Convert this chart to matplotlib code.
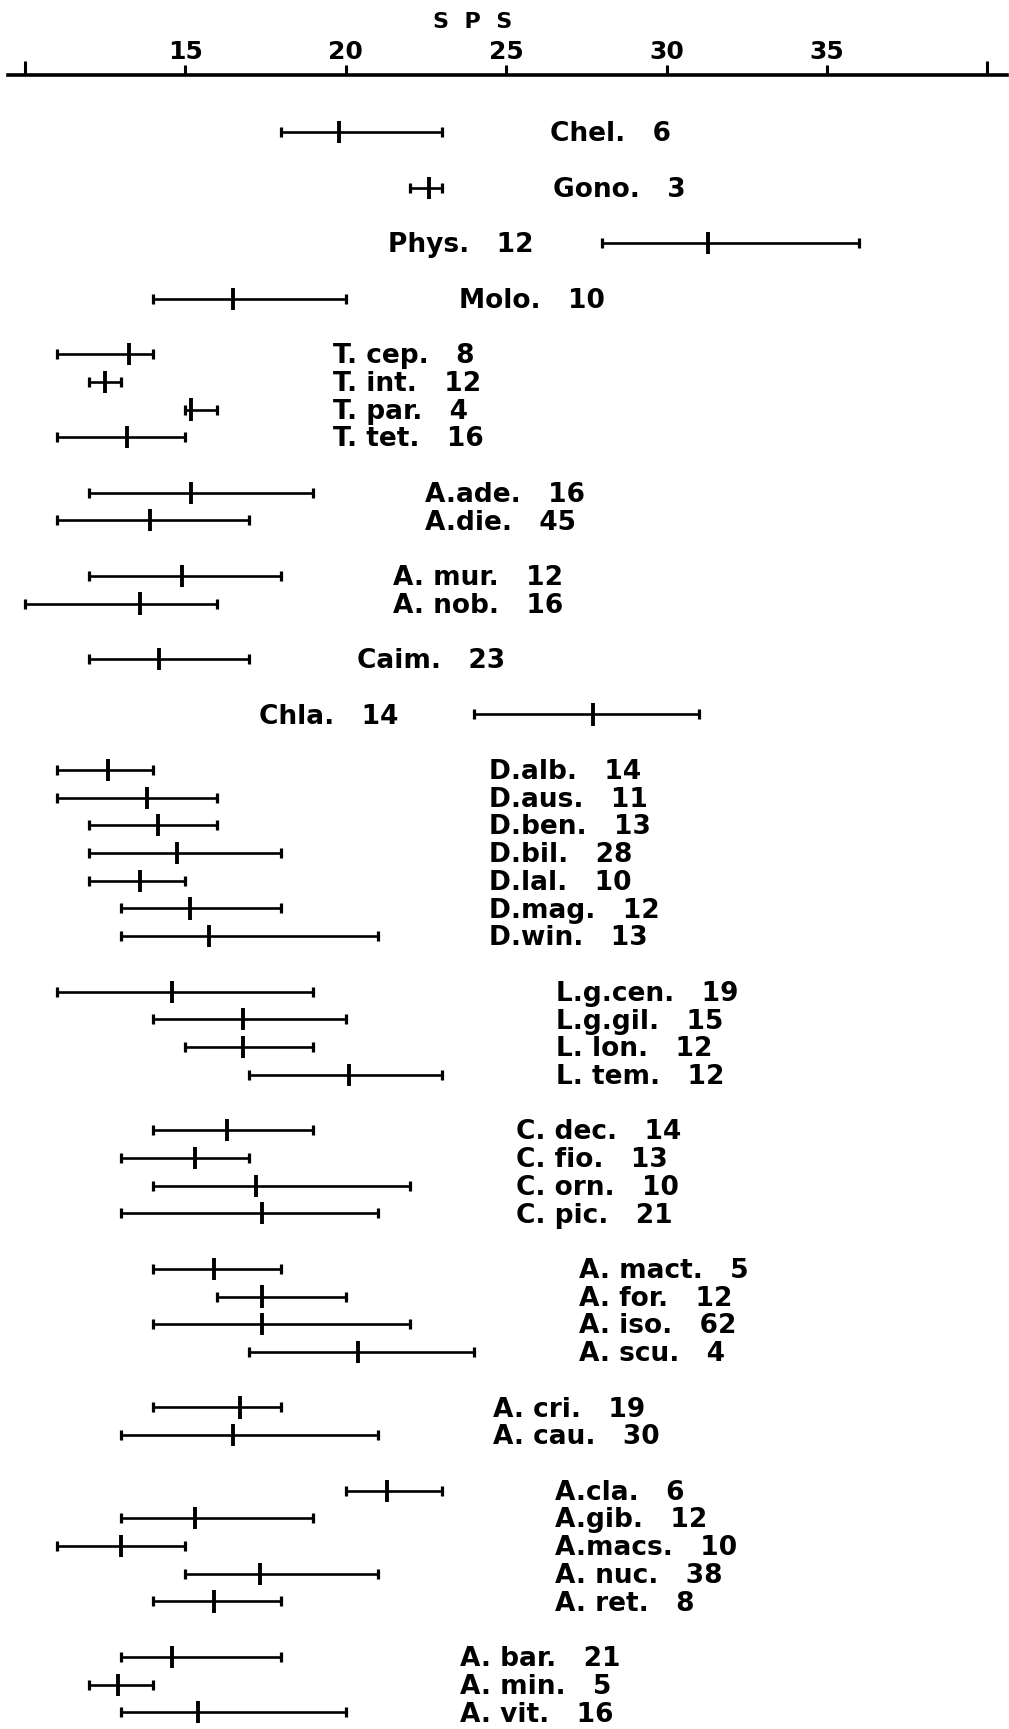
import matplotlib
matplotlib.use("Agg")
import matplotlib.pyplot as plt

# Taxa, sample sizes and SPS ranges (low, mean, high)
taxa = [
    "Chel.", "Gono.", "Phys.", "Molo.",
    "T. cep.", "T. int.", "T. par.", "T. tet.",
    "A.ade.", "A.die.",
    "A. mur.", "A. nob.",
    "Caim.", "Chla.",
    "D.alb.", "D.aus.", "D.ben.", "D.bil.", "D.lal.", "D.mag.", "D.win.",
    "L.g.cen.", "L.g.gil.", "L. lon.", "L. tem.",
    "C. dec.", "C. fio.", "C. orn.", "C. pic.",
    "A. mact.", "A. for.", "A. iso.", "A. scu.",
    "A. cri.", "A. cau.",
    "A.cla.", "A.gib.", "A.macs.", "A. nuc.", "A. ret.",
    "A. bar.", "A. min.", "A. vit.",
]
sample_n = [
    6, 3, 12, 10,
    8, 12, 4, 16,
    16, 45,
    12, 16,
    23, 14,
    14, 11, 13, 28, 10, 12, 13,
    19, 15, 12, 12,
    14, 13, 10, 21,
    5, 12, 62, 4,
    19, 30,
    6, 12, 10, 38, 8,
    21, 5, 16,
]
sps_low = [
    18, 22, 28, 14,
    11, 12, 15, 11,
    12, 11,
    12, 10,
    12, 24,
    11, 11, 12, 12, 12, 13, 13,
    11, 14, 15, 17,
    14, 13, 14, 13,
    14, 16, 14, 17,
    14, 13,
    20, 13, 11, 15, 14,
    13, 12, 13,
]
sps_mean = [
    19.8, 22.6, 31.3, 16.5,
    13.25, 12.5, 15.2, 13.2,
    15.2, 13.9,
    14.9, 13.6,
    14.2, 27.7,
    12.6, 13.8, 14.15, 14.75, 13.6, 15.15, 15.75,
    14.6, 16.8, 16.8, 20.1,
    16.3, 15.3, 17.2, 17.4,
    15.9, 17.4, 17.4, 20.4,
    16.7, 16.5,
    21.3, 15.3, 13.0, 17.35, 15.9,
    14.6, 12.9, 15.4,
]
sps_high = [
    23, 23, 36, 20,
    14, 13, 16, 15,
    19, 17,
    18, 16,
    17, 31,
    14, 16, 16, 18, 15, 18, 21,
    19, 20, 19, 23,
    19, 17, 22, 21,
    18, 20, 22, 24,
    18, 21,
    23, 19, 15, 21, 18,
    18, 14, 20,
]
group_sizes = [1, 1, 1, 1, 4, 2, 2, 1, 1, 7, 4, 4, 4, 2, 5, 3]
tick_values = [15, 20, 25, 30, 35]
end_ticks = [10, 40]

# Layout: left edge of the label column for each group (SPS units)
label_x = [26.37, 26.46, 21.32, 23.53, 19.61, 22.47, 21.48, 20.36,
           17.30, 24.47, 26.56, 25.31, 27.27, 24.59, 26.52, 23.56]

# Row positions: one slot per taxon, an empty slot between groups
rows, row_label_x = [], []
slot = 0
for g, size in enumerate(group_sizes):
    for _ in range(size):
        rows.append(slot)
        row_label_x.append(label_x[g])
        slot += 1
    slot += 1

plt.rcParams["font.family"] = ["DejaVu Sans"]
fig = plt.figure(figsize=(10.09, 17.29), dpi=100)
ax = fig.add_axes([0, 0, 1, 1])
ax.set_xlim(9.234, 40.67)
ax.set_ylim(57.6, -4.773)

ink = "black"
ax.hlines(rows, sps_low, sps_high, color=ink, lw=1.9)
cap = 0.18
ax.vlines(sps_low, [r - cap for r in rows], [r + cap for r in rows], color=ink, lw=2.3)
ax.vlines(sps_high, [r - cap for r in rows], [r + cap for r in rows], color=ink, lw=2.3)
tick_h = 0.4
ax.vlines(sps_mean, [r - tick_h for r in rows], [r + tick_h for r in rows], color=ink, lw=2.8)

for name, n, r, lx in zip(taxa, sample_n, rows, row_label_x):
    ax.text(lx, r + 0.33, f"{name}   {n}", fontsize=19, fontweight="bold",
            ha="left", va="baseline", color=ink)

# SPS scale along the top
for side in ("left", "right", "bottom"):
    ax.spines[side].set_visible(False)
ax.spines["top"].set_position(("data", -2.07))
ax.spines["top"].set_bounds(9.48, 40.6)
ax.spines["top"].set_linewidth(2.6)
ax.xaxis.tick_top()
ax.set_xticks(tick_values)
ax.set_xticklabels([str(v) for v in tick_values])
ax.set_xticks(end_ticks, minor=True)
ax.tick_params(axis="x", which="major", direction="out", length=7, width=2.2,
               pad=1, labelsize=18, colors=ink)
ax.tick_params(axis="x", which="minor", direction="out", length=10, width=2.2)
for lbl in ax.get_xticklabels():
    lbl.set_fontweight("bold")
ax.yaxis.set_visible(False)

ax.text(23.97, -3.76, "S  P  S", fontsize=16, fontweight="bold",
        ha="center", va="baseline", color=ink)

fig.savefig("out.png", dpi=100, facecolor="white")
